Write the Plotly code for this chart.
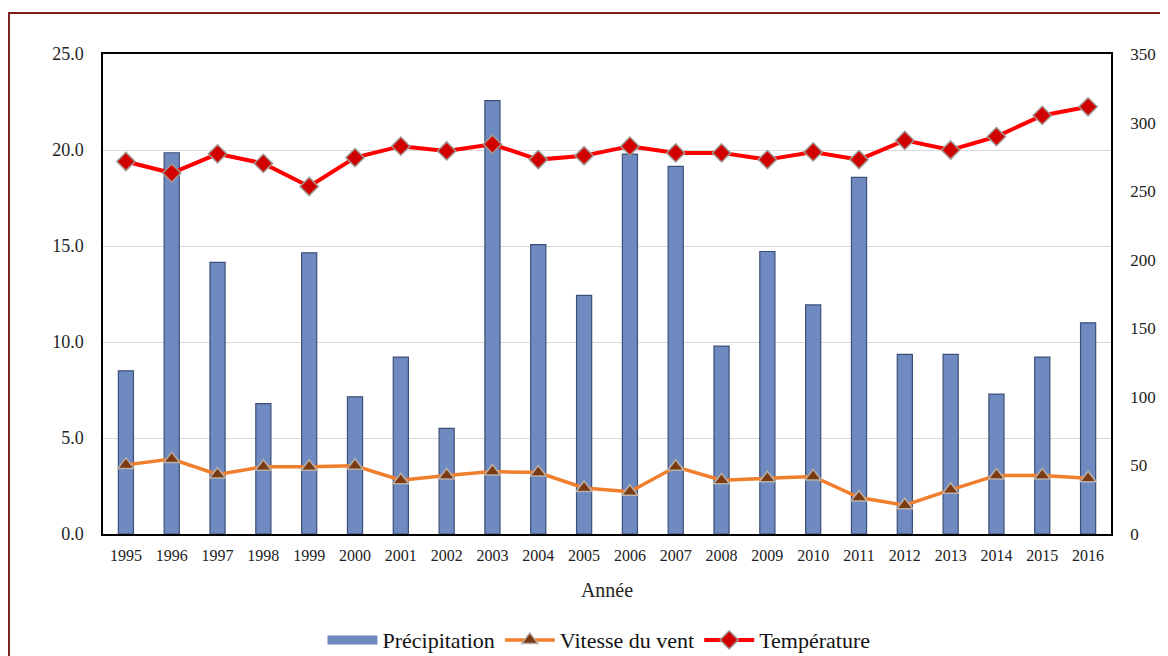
import plotly.graph_objects as go

years = [str(y) for y in range(1995, 2017)]
precipitation = [119, 278, 198, 95, 205, 100, 129, 77, 316, 211, 174, 277, 268, 137, 206, 167, 260, 131, 131, 102, 129, 154]
temperature = [19.4, 18.8, 19.8, 19.3, 18.1, 19.6, 20.2, 19.95, 20.3, 19.5, 19.7, 20.2, 19.85, 19.85, 19.5, 19.9, 19.5, 20.5, 20.0, 20.7, 21.8, 22.25]
wind = [3.6, 3.9, 3.1, 3.5, 3.5, 3.55, 2.8, 3.05, 3.25, 3.2, 2.4, 2.2, 3.5, 2.8, 2.9, 3.0, 1.9, 1.5, 2.3, 3.05, 3.05, 2.9]

left_ticks = [0, 5, 10, 15, 20, 25]
right_ticks = [0, 50, 100, 150, 200, 250, 300, 350]

FONT = "Liberation Serif"
BAR_COLOR = "#6F8AC0"

fig = go.Figure()
fig.add_trace(go.Bar(
    x=years, y=precipitation, name="Précipitation", yaxis="y",
    width=0.33, showlegend=False, legendgroup="p",
    marker=dict(color=BAR_COLOR, line=dict(color="#3D4F78", width=1.2)),
))
# legend-only entry giving the wide bar swatch of the original legend
fig.add_trace(go.Scatter(
    x=[None], y=[None], name="Précipitation", yaxis="y", mode="lines",
    legendgroup="p", line=dict(color=BAR_COLOR, width=9),
))
fig.add_trace(go.Scatter(
    x=years, y=wind, name="Vitesse du vent", yaxis="y2", mode="lines+markers",
    line=dict(color="#F07E2C", width=3.5),
    marker=dict(symbol="triangle-up", size=14, color="#7A3A12", line=dict(color="#B8B0A8", width=1.5)),
))
fig.add_trace(go.Scatter(
    x=years, y=temperature, name="Température", yaxis="y2", mode="lines+markers",
    line=dict(color="#FF0000", width=4),
    marker=dict(symbol="diamond", size=14, color="#D00000", line=dict(color="#A09890", width=1.5)),
))

fig.update_layout(
    width=1168, height=656,
    margin=dict(l=95, r=65, t=46, b=130, autoexpand=False),
    paper_bgcolor="white", plot_bgcolor="white",
    font=dict(family=FONT, size=16, color="#222"),
    showlegend=True,
    legend=dict(orientation="h", x=0.492, xanchor="center", y=-0.221, yanchor="middle",
                font=dict(family=FONT, size=22, color="#111"), traceorder="normal",
                itemwidth=50, tracegroupgap=0),
    xaxis=dict(
        type="category", range=[-0.5, 21.5], automargin=False,
        showline=True, linecolor="black", linewidth=1.5, mirror=True,
        ticks="outside", ticklen=6, tickcolor="rgba(0,0,0,0)",
        tickfont=dict(family=FONT, size=16, color="#222"),
        title=dict(text="Année", font=dict(family=FONT, size=20, color="#222"), standoff=20),
    ),
    yaxis=dict(
        side="right", range=[0, 350], tickvals=right_ticks, automargin=False,
        ticktext=[str(v) for v in right_ticks],
        showgrid=False, zeroline=False,
        showline=True, linecolor="black", linewidth=1.5,
        ticks="outside", ticklen=14, tickcolor="rgba(0,0,0,0)",
        tickfont=dict(family=FONT, size=17, color="#222"),
        minor=dict(tickvals=[70, 140, 210, 280], showgrid=True, gridcolor="#D9D9D9", gridwidth=1.2, ticks=""),
    ),
    yaxis2=dict(
        side="left", overlaying="y", range=[0, 25], tickvals=left_ticks, automargin=False,
        ticktext=[f"{v:.1f}" for v in left_ticks],
        showgrid=False, zeroline=False,
        showline=True, linecolor="black", linewidth=1.5,
        ticks="outside", ticklen=14, tickcolor="rgba(0,0,0,0)",
        tickfont=dict(family=FONT, size=18, color="#222"),
    ),
    shapes=[dict(type="rect", xref="paper", yref="paper",
                 x0=-0.0933, x1=1.2, y0=-0.4, y1=1.0854,
                 line=dict(color="#7A2020", width=2), fillcolor="rgba(0,0,0,0)", layer="below")],
)

fig.write_html("out.html")
